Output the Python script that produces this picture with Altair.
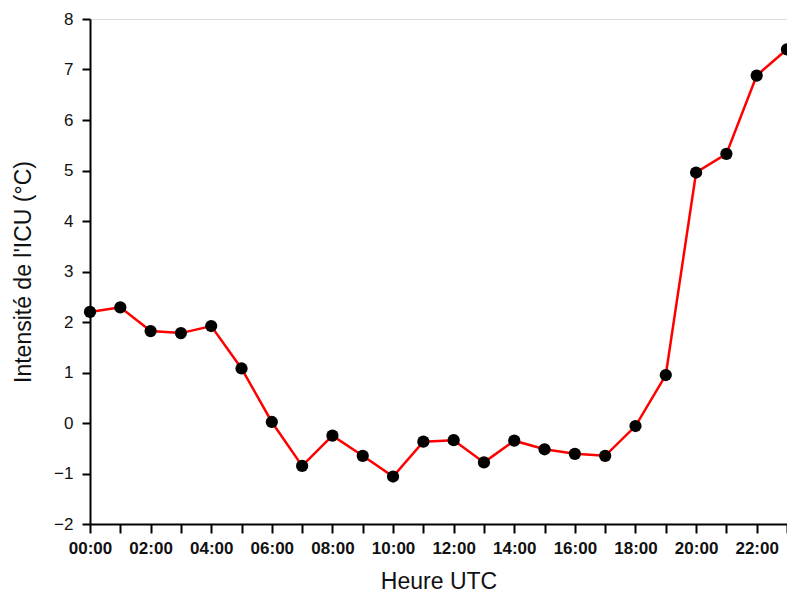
import altair as alt
import pandas as pd

hours = list(range(24))
icu = [2.20, 2.29, 1.82, 1.78, 1.92, 1.08, 0.02, -0.85, -0.25, -0.65, -1.06, -0.37,
       -0.34, -0.78, -0.35, -0.52, -0.61, -0.65, -0.06, 0.95, 4.96, 5.33, 6.88, 7.40]
y_ticks = list(range(-2, 9))

df = pd.DataFrame({"h": hours, "v": icu})

label_expr = "datum.value % 2 == 0 ? ((datum.value < 10 ? '0' : '') + datum.value + ':00') : ''"

x = alt.X("h:Q", scale=alt.Scale(domain=[0, 23], nice=False, zero=False),
          axis=alt.Axis(values=hours, labelExpr=label_expr, title="Heure UTC",
                        grid=False, tickSize=9, tickWidth=2, tickColor="black",
                        domainColor="black", domainWidth=2,
                        labelFont="Liberation Sans", labelFontSize=17, labelFontWeight="bold",
                        labelColor="#111", labelPadding=7, labelFlush=False,
                        titleFont="Liberation Sans", titleFontSize=23, titleFontWeight="normal",
                        titleColor="#111", titlePadding=14))
y = alt.Y("v:Q", scale=alt.Scale(domain=[-2, 8], nice=False, zero=False),
          axis=alt.Axis(values=y_ticks, title="Intensité de l'ICU (°C)",
                        grid=False, tickSize=8, tickWidth=2, tickColor="black",
                        domainColor="black", domainWidth=2,
                        labelFont="Liberation Sans", labelFontSize=17,
                        labelColor="#111", labelPadding=9,
                        titleFont="Liberation Sans", titleFontSize=23, titleFontWeight="normal",
                        titleColor="#111", titlePadding=18))

base = alt.Chart(df)
line = base.mark_line(color="#ff0000", strokeWidth=2.5, clip=False).encode(x=x, y=y)
pts = base.mark_circle(color="black", opacity=1, size=150, clip=False).encode(x=x, y=y)

chart = (line + pts).properties(
    width=697, height=505,
    autosize=alt.AutoSizeParams(type="none"),
    padding={"left": 82, "top": 11, "right": 0, "bottom": 71},
).configure_view(stroke="black", strokeWidth=2).configure(background="white")

chart.save("out.html", embed_options={"renderer": "svg", "actions": False})
